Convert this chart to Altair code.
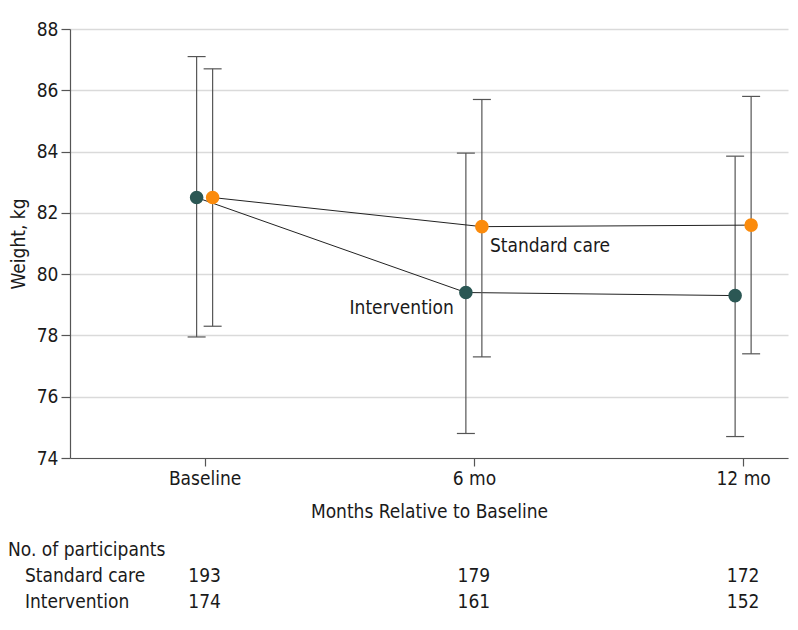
import altair as alt
import pandas as pd

# ---- data ----
months = [0, 6, 12]
tick_labels = ["Baseline", "6 mo", "12 mo"]
groups = ["Intervention", "Standard care"]
int_mean = [82.5, 79.4, 79.3]
int_low = [77.95, 74.8, 74.7]
int_high = [87.1, 83.95, 83.85]
std_mean = [82.5, 81.55, 81.6]
std_low = [78.3, 77.3, 77.4]
std_high = [86.7, 85.7, 85.8]
n_std = [193, 179, 172]
n_int = [174, 161, 152]
table_header = "No. of participants"

FONT = "DejaVu Sans Condensed"
FS = 19
colors = {"Intervention": "#2b5754", "Standard care": "#fb8b0c"}
dodge = {"Intervention": -8, "Standard care": 8}

label_expr = " : ".join(
    f"datum.value == {m} ? '{t}'" for m, t in zip(months, tick_labels)
) + " : ''"

x_scale = alt.Scale(domain=[-3, 13], nice=False, zero=False)
y_scale = alt.Scale(domain=[74, 88], nice=False, zero=False)
x_axis = alt.Axis(values=months, labelExpr=label_expr, title="Months Relative to Baseline",
                  grid=False, tickSize=8, labelPadding=3, titlePadding=14)
y_axis = alt.Axis(values=list(range(74, 89, 2)), title="Weight, kg", grid=True,
                  tickSize=9, labelPadding=3, titlePadding=8)

series = {
    "Intervention": (int_mean, int_low, int_high),
    "Standard care": (std_mean, std_low, std_high),
}

layers = []
for g in groups:
    mean, low, high = series[g]
    df = pd.DataFrame({"month": months, "mean": mean, "low": low, "high": high, "group": g})
    off = dodge[g]
    base = alt.Chart(df)
    X = alt.X("month:Q", scale=x_scale, axis=x_axis)
    bar = base.mark_rule(xOffset=off, color="#555555", strokeWidth=1.2).encode(
        x=X, y=alt.Y("low:Q", scale=y_scale, axis=y_axis), y2="high:Q")
    cap_lo = base.mark_rule(xOffset=off - 9, x2Offset=off + 9, color="#555555", strokeWidth=1.2).encode(
        x=X, x2="month:Q", y=alt.Y("low:Q", scale=y_scale, axis=y_axis))
    cap_hi = base.mark_rule(xOffset=off - 9, x2Offset=off + 9, color="#555555", strokeWidth=1.2).encode(
        x=X, x2="month:Q", y=alt.Y("high:Q", scale=y_scale, axis=y_axis))
    line = base.mark_line(xOffset=off, color="#222222", strokeWidth=1).encode(
        x=X, y=alt.Y("mean:Q", scale=y_scale, axis=y_axis))
    layers += [bar, cap_lo, cap_hi, line]

for g in groups:
    mean, low, high = series[g]
    df = pd.DataFrame({"month": months, "mean": mean, "group": g})
    pts = alt.Chart(df).mark_circle(xOffset=dodge[g], size=185, opacity=1, color=colors[g]).encode(
        x=alt.X("month:Q", scale=x_scale, axis=x_axis),
        y=alt.Y("mean:Q", scale=y_scale, axis=y_axis))
    layers.append(pts)

# in-plot series labels next to the 6-month points
ann_std = alt.Chart(pd.DataFrame({"month": [months[1]], "mean": [std_mean[1]], "t": ["Standard care"]})).mark_text(
    align="left", baseline="middle", dx=16, dy=19, font=FONT, fontSize=FS, color="#1a1a1a").encode(
    x=alt.X("month:Q", scale=x_scale, axis=x_axis), y=alt.Y("mean:Q", scale=y_scale, axis=y_axis), text="t:N")
ann_int = alt.Chart(pd.DataFrame({"month": [months[1]], "mean": [int_mean[1]], "t": ["Intervention"]})).mark_text(
    align="right", baseline="middle", dx=-20, dy=15, font=FONT, fontSize=FS, color="#1a1a1a").encode(
    x=alt.X("month:Q", scale=x_scale, axis=x_axis), y=alt.Y("mean:Q", scale=y_scale, axis=y_axis), text="t:N")
layers += [ann_std, ann_int]

main = alt.layer(*layers).properties(width=718, height=429)

# ---- participants table ----
rows = [table_header, "Standard care", "Intervention"]
tab_df = pd.DataFrame({
    "row": ["Standard care"] * 3 + ["Intervention"] * 3,
    "month": months + months,
    "n": n_std + n_int,
})
row_df = pd.DataFrame({"row": rows, "indent": [0, 1, 1]})
y_tab = alt.Y("row:N", scale=alt.Scale(domain=rows, paddingInner=0, paddingOuter=0), axis=None)

nums = alt.Chart(tab_df).mark_text(font=FONT, fontSize=FS, color="#1a1a1a", baseline="middle").encode(
    x=alt.X("month:Q", scale=x_scale, axis=None), y=y_tab, text="n:Q")
head = alt.Chart(row_df[row_df.indent == 0]).mark_text(
    font=FONT, fontSize=FS, color="#1a1a1a", align="left", baseline="middle").encode(
    x=alt.value(-62), y=y_tab, text="row:N")
sub = alt.Chart(row_df[row_df.indent == 1]).mark_text(
    font=FONT, fontSize=FS, color="#1a1a1a", align="left", baseline="middle").encode(
    x=alt.value(-45), y=y_tab, text="row:N")
table = alt.layer(nums, head, sub).properties(width=718, height=78)

chart = alt.vconcat(main, table, spacing=16).properties(
    padding={"top": 12, "left": 0, "right": 2, "bottom": 0}
).configure_axis(
    labelFont=FONT, titleFont=FONT, labelFontSize=FS, titleFontSize=FS,
    labelColor="#1a1a1a", titleColor="#1a1a1a", titleFontWeight="normal",
    domainColor="#555555", tickColor="#555555", domainWidth=1.2, tickWidth=1.2,
    gridColor="#dadada", gridWidth=1.5,
).configure_view(stroke=None)

chart.save("out.html", embed_options={"renderer": "svg", "actions": False})
